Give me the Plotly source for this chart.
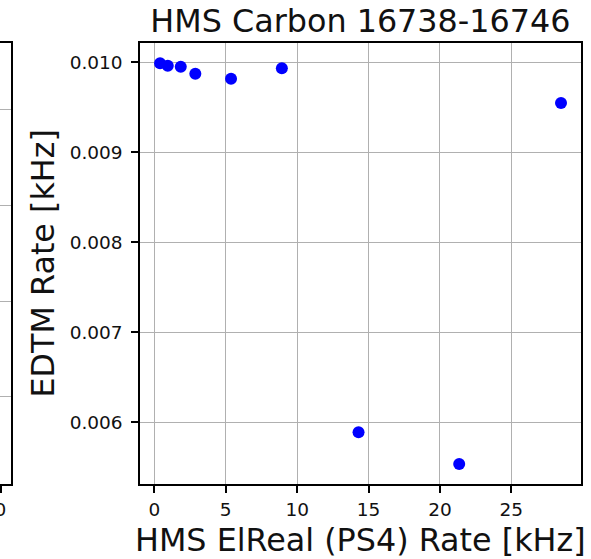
import plotly.graph_objects as go

# Data
x_rate = [0.40, 0.94, 1.85, 2.87, 5.37, 8.93, 14.30, 21.35, 28.48]
edtm_rate = [0.00999, 0.009962, 0.009951, 0.009873, 0.009818, 0.009933, 0.005889, 0.005537, 0.009548]
x_ticks = [0, 5, 10, 15, 20, 25]
y_ticks = [0.006, 0.007, 0.008, 0.009, 0.010]
y_tick_labels = ["0.006", "0.007", "0.008", "0.009", "0.010"]
title_text = "HMS Carbon 16738-16746"
x_label = "HMS ElReal (PS4) Rate [kHz]"
y_label = "EDTM Rate [kHz]"

# neighbouring (cut-off) panel on the left: only its edge is visible
left_x_ticks = [0]
left_y_ticks = [1, 2, 3, 4]

W, H = 591, 559
L, R, T, B = 0, 10.3, 43, 75
PW = W - L - R
PH = H - T - B
ax_left = 140.0

FONT = "DejaVu Sans"
BIG = 31.8
fig = go.Figure()
fig.add_trace(go.Scatter(
    x=x_rate, y=edtm_rate, mode="markers",
    marker=dict(color="#0000ff", size=12, line=dict(width=0)),
    xaxis="x", yaxis="y", showlegend=False, hoverinfo="x+y",
))
# invisible trace to instantiate the left neighbour axes
fig.add_trace(go.Scatter(x=[None], y=[None], xaxis="x2", yaxis="y2", showlegend=False))

axis_common = dict(
    showline=True, linecolor="black", linewidth=1.5, mirror=True,
    showgrid=True, gridcolor="#b0b0b0", gridwidth=1.3,
    ticks="outside", ticklen=7, tickwidth=1.5, tickcolor="black",
    tickfont=dict(family=FONT, size=18.5, color="#111111"),
    zeroline=False, automargin=False,
)

fig.update_layout(
    width=W, height=H,
    margin=dict(l=L, r=R, t=T, b=B, pad=0),
    paper_bgcolor="white", plot_bgcolor="white",
    font=dict(family=FONT, color="black"),
    title=dict(text=title_text, x=360.4 / W, xref="container", xanchor="center",
               y=1 - 20.5 / H, yref="container", yanchor="middle",
               font=dict(family=FONT, size=BIG, color="#111111")),
    xaxis=dict(domain=[ax_left / PW, 1.0], range=[-1.0, 29.88],
               tickvals=x_ticks, ticktext=[str(v) for v in x_ticks],
               ticklabelstandoff=1, **axis_common),
    yaxis=dict(range=[0.005314, 0.010214], tickvals=y_ticks, ticktext=y_tick_labels,
               anchor="x", ticklabelstandoff=5, **axis_common),
    xaxis2=dict(domain=[0, 10.5 / PW], range=[-0.05, 1.0], anchor="y2",
                tickvals=left_x_ticks, ticktext=["0"], ticklabeloverflow="allow",
                showline=True, linecolor="black", linewidth=1.5, mirror=True,
                showgrid=False, ticks="outside", ticklen=7, tickwidth=1.5,
                tickcolor="black", ticklabelstandoff=1,
                zeroline=False, automargin=False,
                tickfont=dict(family=FONT, size=18.5, color="#111111")),
    yaxis2=dict(range=[0.087, 4.698], anchor="x2", side="right",
                tickvals=left_y_ticks, showticklabels=False, ticks="",
                showline=True, linecolor="black", linewidth=1.5, mirror=False,
                showgrid=True, gridcolor="#b0b0b0", gridwidth=1.3,
                zeroline=False, automargin=False),
    annotations=[
        dict(text=x_label, xref="paper", yref="paper",
             x=(ax_left + (PW - ax_left) / 2) / PW, y=-(539 - 484) / PH,
             xanchor="center", yanchor="middle", showarrow=False,
             font=dict(family=FONT, size=BIG, color="#111111")),
        dict(text=y_label, xref="paper", yref="paper",
             x=42 / PW, y=0.5, textangle=-90,
             xanchor="center", yanchor="middle", showarrow=False,
             font=dict(family=FONT, size=BIG, color="#111111")),
    ],
)

fig.write_html(
    "out.html",
    config={"displayModeBar": False},
    post_script="document.body.style.margin='0';document.body.style.overflow='hidden';",
)
